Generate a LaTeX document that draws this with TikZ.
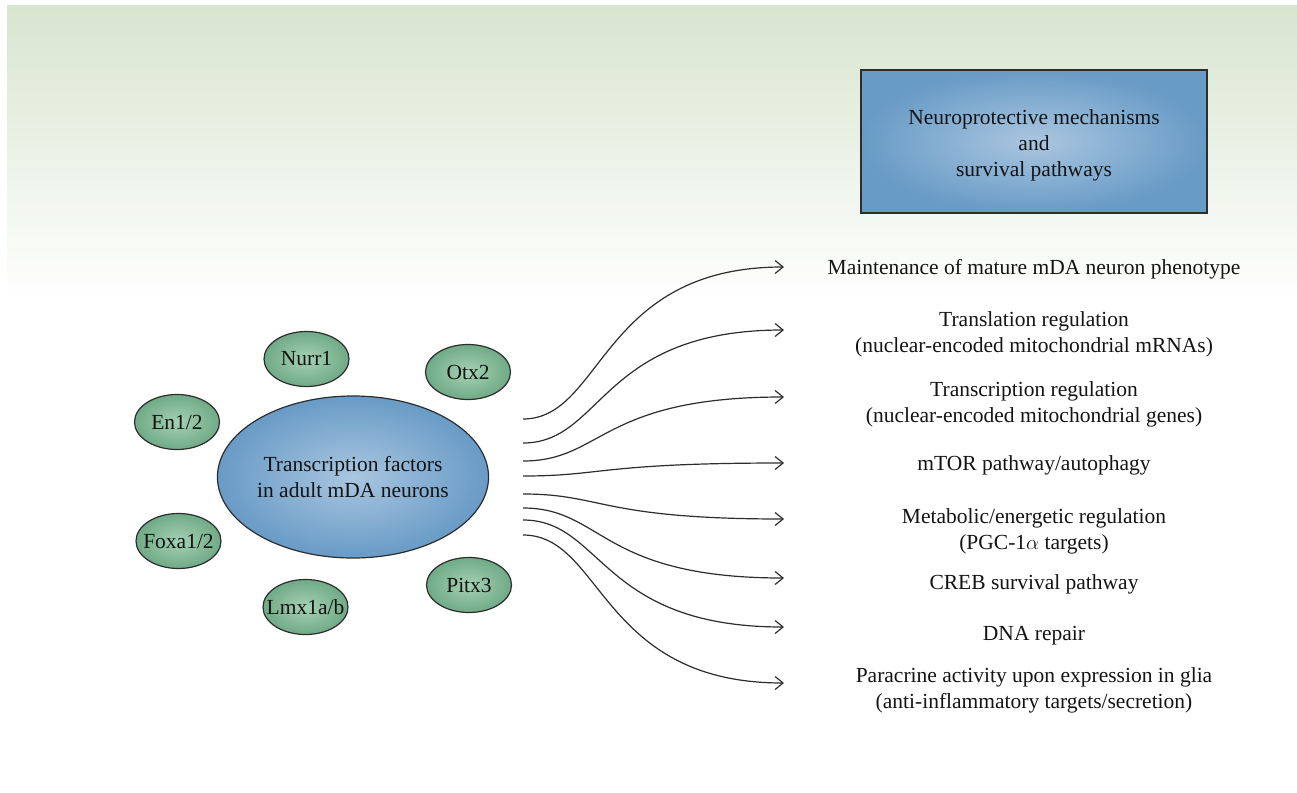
\documentclass[tikz,border=0pt]{standalone}
\usepackage{fontspec}
\setmainfont{Liberation Serif}
\usetikzlibrary{shapes.geometric,arrows.meta,calc}
\definecolor{bggreen}{RGB}{216,229,207}
\definecolor{bluein}{RGB}{170,198,224}
\definecolor{blueout}{RGB}{104,155,198}
\definecolor{greenin}{RGB}{165,209,180}
\definecolor{greenout}{RGB}{112,170,134}
\definecolor{edge}{RGB}{45,45,45}
\definecolor{ink}{RGB}{20,20,20}
\newcommand{\zwtext}[1]{\makebox[0pt]{#1}}
\begin{document}
\begin{tikzpicture}[x=1pt,y=-1pt,
  txt/.style={font=\fontsize{21.5pt}{26pt}\selectfont, text=ink, align=center},
  tfnode/.style={ellipse, draw=edge, line width=1.2pt, inner color=greenin, outer color=greenout,
     minimum width=85pt, minimum height=55pt, inner sep=0pt, txt},
  mainnode/.style={ellipse, draw=edge, line width=1.2pt, inner color=bluein, outer color=blueout,
     minimum width=270pt, minimum height=162pt, inner sep=0pt, txt},
  boxnode/.style={rectangle, draw=edge, line width=1.5pt, inner color=bluein, outer color=blueout,
     minimum width=346pt, minimum height=143pt, inner sep=0pt},
  flow/.style={draw=edge, line width=1.2pt, -{Straight Barb[length=8pt,width=13pt]}}
]
\useasboundingbox (0,0) rectangle (1297,792);
% background
\fill[white] (7,6) rectangle (1297,792);
\shade[top color=bggreen, bottom color=white] (7,6) rectangle (1297,300);

% top box
\node[boxnode] (box) at (1034,141.5) {};
\node[txt] (boxtext) at ($(box.center)+(0,4)$) {Neuroprotective mechanisms\\and\\survival pathways};

% main ellipse
\node[mainnode] (tf) at (353,477) {Transcription factors\\in adult mDA neurons};

% small factor ellipses
\node[tfnode] (nurr) at (306.5,359) {\zwtext{Nurr1}};
\node[tfnode] (otx) at (468,372) {\zwtext{Otx2}};
\node[tfnode] (en) at (177,422) {\zwtext{En1/2}};
\node[tfnode] (foxa) at (178.5,541) {\zwtext{Foxa1/2}};
\node[tfnode] (lmx) at (305.5,607) {\zwtext{Lmx1a/b}};
\node[tfnode] (pitx) at (469,585) {\zwtext{Pitx3}};

% start points of connectors
\coordinate (s1) at (523,419);
\coordinate (s2) at (523,443);
\coordinate (s3) at (523,461);
\coordinate (s4) at (523,476);
\coordinate (s5) at (523,494);
\coordinate (s6) at (523,508);
\coordinate (s7) at (523,520);
\coordinate (s8) at (523,535);
% end points
\coordinate (e1) at (784,267);
\coordinate (e2) at (784,330);
\coordinate (e3) at (784,397);
\coordinate (e4) at (784,463);
\coordinate (e5) at (784,519);
\coordinate (e6) at (784,578);
\coordinate (e7) at (784,627);
\coordinate (e8) at (784,683);

\foreach \i in {1,...,8}{
  \draw[flow] (s\i) .. controls ($(s\i)+(80,0)$) and ($(e\i)+(-184,0)$) .. (e\i);
}

% labels
\node[txt] (l1) at (1034,269.5) {Maintenance of mature mDA neuron phenotype};
\node[txt] (l2) at (1034,334.5) {Translation regulation\\(nuclear-encoded mitochondrial mRNAs)};
\node[txt] (l3) at (1034,404.5) {Transcription regulation\\(nuclear-encoded mitochondrial genes)};
\node[txt] (l4) at (1034,465.5) {mTOR pathway/autophagy};
\node[txt] (l5) at (1034,531.5) {Metabolic/energetic regulation\\(PGC-1$\alpha$ targets)};
\node[txt] (l6) at (1034,584.5) {CREB survival pathway};
\node[txt] (l7) at (1034,635.5) {DNA repair};
\node[txt] (l8) at (1034,690.5) {Paracrine activity upon expression in glia\\(anti-inflammatory targets/secretion)};
\end{tikzpicture}
\end{document}
